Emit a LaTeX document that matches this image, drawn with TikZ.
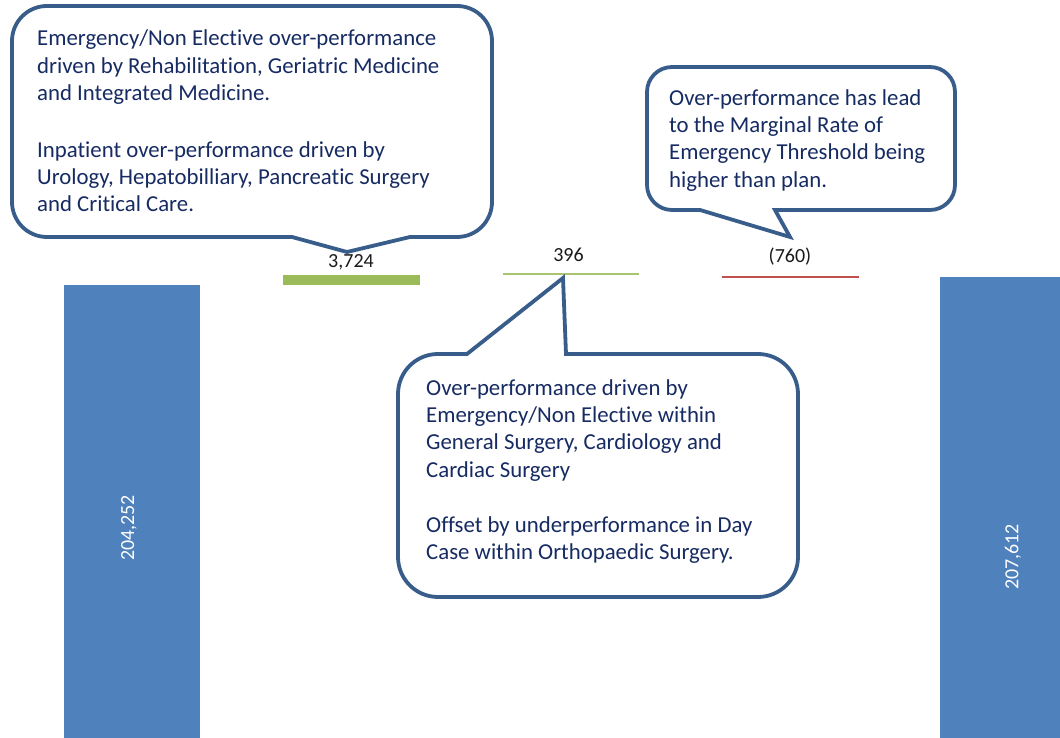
\documentclass[tikz,border=0pt]{standalone}
\usepackage{fontspec}
\setmainfont{Carlito}[Ligatures=NoCommon]
\definecolor{barblue}{HTML}{4F81BD}
\definecolor{posgreen}{HTML}{9BBB59}
\definecolor{negred}{HTML}{C0504D}
\definecolor{calloutline}{HTML}{385D8A}
\definecolor{callouttext}{RGB}{23,43,99}
\tikzset{
  bar/.style={fill=barblue, draw=none},
  callout/.style={draw=calloutline, line width=3.8pt, fill=white, line join=miter},
  ctext/.style={anchor=north west, inner sep=0pt, align=left, text=callouttext,
                font=\fontsize{22.8}{27.3}\selectfont},
  vlabel/.style={anchor=base, inner sep=0pt, text=black!90, font=\fontsize{20}{24}\selectfont},
  barlabel/.style={rotate=90, inner sep=0pt, text=white, font=\fontsize{20}{24}\selectfont}
}
\begin{document}
\begin{tikzpicture}[x=1pt,y=1pt]
\useasboundingbox (0,0) rectangle (1060,738);
% bars
\path[bar] (64,0) rectangle (200,453);
\path[bar] (940,0) rectangle (1060,461);
\fill[posgreen] (283,453) rectangle (420,463);
\draw[posgreen!85!white, line width=1.5pt] (503,464) -- (639,464);
\draw[negred, line width=1.5pt] (722,461) -- (859,461);
% bar labels
\node[barlabel] (startlbl) at (129,210) {204,252};
\node[barlabel] (endlbl) at (1013,181) {207,612};
\node[vlabel] (v1) at (351,470) {3,724};
\node[vlabel] (v2) at (568.5,476.3) {396};
\node[vlabel] (v3) at (790,475) {(760)};
% callout 1
\draw[callout] (292,501) -- (347,486) -- (410,501) -- (457,501)
  arc[start angle=270,end angle=360,radius=35] -- (492,697)
  arc[start angle=0,end angle=90,radius=35] -- (47,732)
  arc[start angle=90,end angle=180,radius=35] -- (12,536)
  arc[start angle=180,end angle=270,radius=35] -- cycle;
% callout 2
\draw[callout] (467,384) -- (563,460) -- (566,384) -- (758,384)
  arc[start angle=90,end angle=0,radius=40] -- (798,181)
  arc[start angle=0,end angle=-90,radius=40] -- (438,141)
  arc[start angle=270,end angle=180,radius=40] -- (398,344)
  arc[start angle=180,end angle=90,radius=40] -- cycle;
% callout 3
\draw[callout] (700,528) -- (790,501) -- (775,528) -- (930,528)
  arc[start angle=270,end angle=360,radius=25] -- (955,646)
  arc[start angle=0,end angle=90,radius=25] -- (672,671)
  arc[start angle=90,end angle=180,radius=25] -- (647,553)
  arc[start angle=180,end angle=270,radius=25] -- cycle;
% callout texts
\node[ctext] (t1) at (37,710.3) {\rule{0pt}{18pt}Emergency/Non Elective over-performance\\
driven by Rehabilitation, Geriatric Medicine\\
and Integrated Medicine.\\[29.4pt]
Inpatient over-performance driven by\\
Urology, Hepatobilliary, Pancreatic Surgery\\
and Critical Care.};
\node[ctext] (t2) at (426,361) {\rule{0pt}{18pt}Over-performance driven by\\
Emergency/Non Elective within\\
General Surgery, Cardiology and\\
Cardiac Surgery\\[28.3pt]
Offset by underperformance in Day\\
Case within Orthopaedic Surgery.};
\node[ctext] (t3) at (669,651) {\rule{0pt}{18pt}Over-performance has lead\\
to the Marginal Rate of\\
Emergency Threshold being\\
higher than plan.};
\end{tikzpicture}
\end{document}
